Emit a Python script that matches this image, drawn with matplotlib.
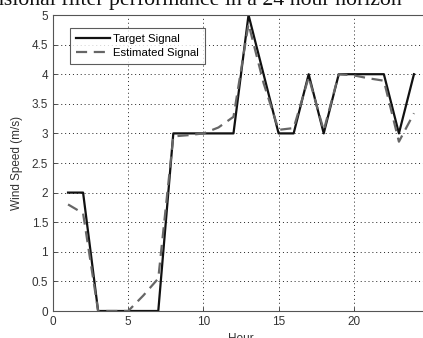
import matplotlib
matplotlib.use("Agg")
import matplotlib.pyplot as plt

hours = list(range(1, 25))
target = [2, 2, 0, 0, 0, 0, 0, 3, 3, 3, 3, 3, 5, 4, 3, 3, 4, 3, 4, 4, 4, 4, 3, 4]
estimated = [1.8, 1.65, 0, 0, 0, 0.26, 0.55, 2.95, 2.97, 3.0, 3.1, 3.28, 4.85, 3.85,
             3.06, 3.09, 3.95, 3.05, 4.0, 3.98, 3.93, 3.89, 2.86, 3.34]
xticks = [0, 5, 10, 15, 20]
yticks = [0, 0.5, 1, 1.5, 2, 2.5, 3, 3.5, 4, 4.5, 5]
ytick_labels = ["0", "0.5", "1", "1.5", "2", "2.5", "3", "3.5", "4", "4.5", "5"]

plt.rcParams['font.family'] = ['Liberation Sans', 'DejaVu Sans']

W, H = 423, 338
fig = plt.figure(figsize=(W / 100, H / 100), dpi=100)
left, right, top, bottom = 53, 429, 15, 311
ax = fig.add_axes([left / W, (H - bottom) / H, (right - left) / W, (bottom - top) / H])

ax.plot(hours, target, color='#111111', lw=1.6, label='Target Signal')
ax.plot(hours, estimated, color='#666666', lw=1.6, ls=(0, (5, 3)), label='Estimated Signal')

ax.set_xlim(0, 25)
ax.set_ylim(0, 5)
ax.set_xticks(xticks)
ax.set_yticks(yticks)
ax.set_yticklabels(ytick_labels)
ax.tick_params(direction='in', length=3, labelsize=8.5, colors='#333333', width=0.6)
ax.grid(True, color='#222222', ls=(0, (1, 3)), lw=0.7)
for s in ax.spines.values():
    s.set_color('#555555')
    s.set_linewidth(0.8)

ax.set_ylabel('Wind Speed (m/s)', fontsize=8.5, color='#333333', labelpad=6)
ax.set_xlabel('Hour', fontsize=8.5, color='#333333', labelpad=4)

leg = ax.legend(loc='upper left', bbox_to_anchor=(17 / (right - left), 1 - 13 / (bottom - top)),
                fontsize=8.2, frameon=True, fancybox=False, edgecolor='#333333',
                handlelength=3.0, handletextpad=0.3, borderpad=0.5, labelspacing=0.4,
                borderaxespad=0)
leg.get_frame().set_linewidth(0.8)

fig.text(402 / W, 1 - 4.5 / H, 'One-dimensional filter performance in a 24 hour horizon',
         ha='right', va='baseline', fontsize=15.7, family='Liberation Serif', color='#111111')

fig.savefig('out.png', dpi=100)
